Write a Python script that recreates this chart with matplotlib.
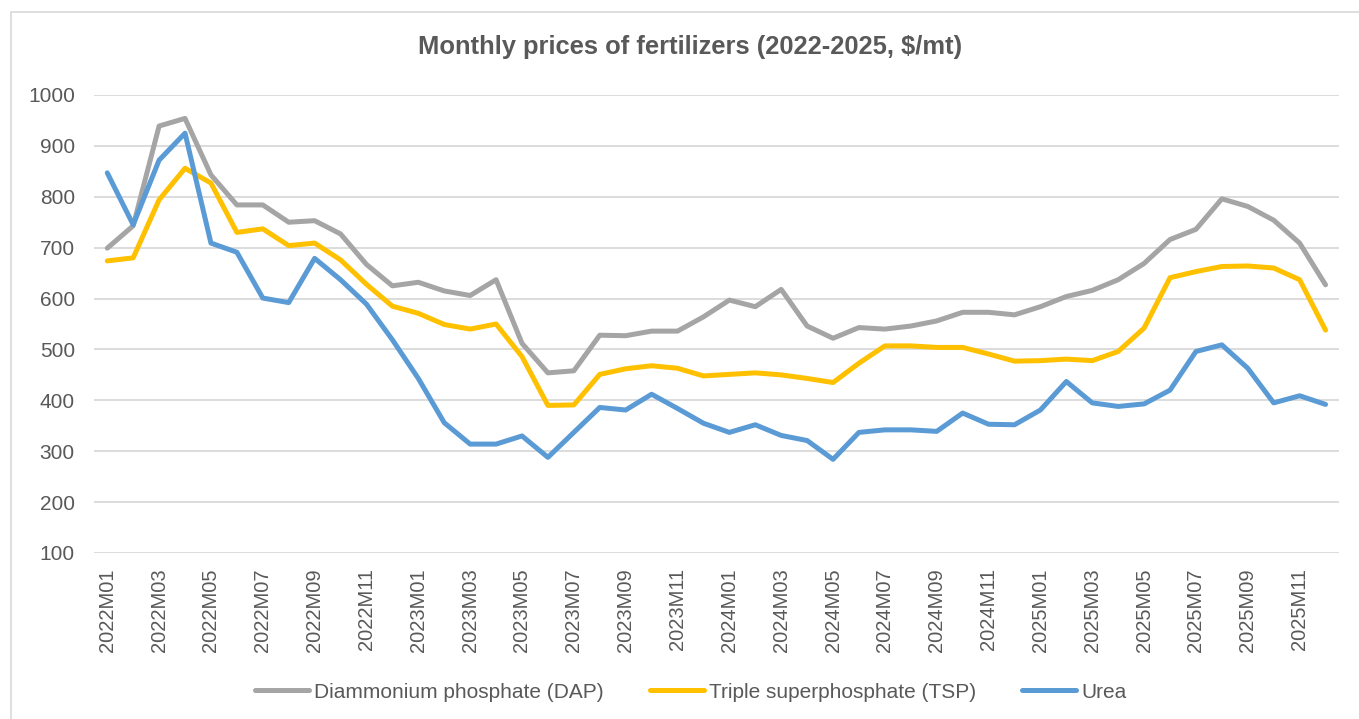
import matplotlib
matplotlib.use("Agg")
import matplotlib.pyplot as plt
from matplotlib.patches import Rectangle

years = [2022, 2023, 2024, 2025]
months = [f"{y}M{m:02d}" for y in years for m in range(1, 13)]

dap = [699, 743, 939, 954, 843, 784, 784, 750, 753, 727, 667, 625,
       632, 615, 606, 637, 512, 454, 458, 528, 527, 536, 536, 564,
       597, 584, 618, 546, 522, 543, 540, 546, 556, 573, 573, 568,
       584, 604, 616, 637, 669, 716, 736, 796, 781, 754, 709, 627]
tsp = [674, 680, 794, 856, 827, 730, 737, 704, 709, 676, 628, 585,
       571, 549, 540, 550, 486, 390, 391, 451, 462, 468, 463, 448,
       451, 454, 450, 443, 435, 473, 507, 507, 504, 504, 491, 477,
       478, 481, 478, 496, 542, 641, 653, 663, 664, 660, 637, 538]
urea = [847, 745, 872, 925, 709, 691, 601, 592, 679, 637, 589, 519,
        443, 356, 314, 314, 330, 288, 337, 386, 381, 412, 384, 355,
        337, 352, 331, 321, 284, 337, 342, 342, 339, 375, 353, 352,
        381, 437, 395, 388, 393, 420, 496, 509, 463, 395, 409, 392]

series_names = ["Diammonium phosphate (DAP)", "Triple superphosphate (TSP)", "Urea"]
series_colors = ["#A5A5A5", "#FFC000", "#5B9BD5"]
yticks = [100, 200, 300, 400, 500, 600, 700, 800, 900, 1000]

plt.rcParams['font.family'] = ['Liberation Sans', 'DejaVu Sans']
txt = "#595959"

W, H = 1359, 719
fig = plt.figure(figsize=(W / 100, H / 100), dpi=100)
ax = fig.add_axes([94.3 / W, 1 - 553 / H, (1338.5 - 94.3) / W, (553 - 95) / H])

x = list(range(len(months)))
for vals, name, col in zip([dap, tsp, urea], series_names, series_colors):
    ax.plot(x, vals, color=col, lw=3.6, label=name,
            solid_capstyle='round', solid_joinstyle='round')

ax.set_xlim(-0.5, len(months) - 0.5)
ax.set_ylim(100, 1000)
ax.set_yticks(yticks)
ax.set_yticklabels([str(v) for v in yticks])
ax.set_xticks(x[::2])
ax.set_xticklabels(months[::2], rotation=90)
ax.grid(axis='y', color='#D9D9D9', lw=1.3)
ax.set_axisbelow(True)
for s in ax.spines.values():
    s.set_visible(False)
ax.tick_params(axis='y', length=0, pad=14, labelsize=15, labelcolor=txt)
ax.tick_params(axis='x', length=0, pad=11, labelsize=14.5, labelcolor=txt)

fig.text(690 / W, 1 - 47 / H,
         "Monthly prices of fertilizers (2022-2025, $/mt)",
         ha='center', va='center', fontsize=18.4, fontweight='bold', color=txt)

leg = fig.legend(loc='center', bbox_to_anchor=(691 / W, 1 - 692 / H), ncol=3,
                 frameon=False, fontsize=15, handlelength=2.6, handletextpad=0.25,
                 columnspacing=2.2, labelcolor=txt)
for h in leg.get_lines():
    h.set_linewidth(3.6)
    h.set_solid_capstyle('round')

fig.add_artist(Rectangle((11 / W, -0.1), 1.2, 1.1 - 12 / H, transform=fig.transFigure,
                         fill=False, edgecolor='#D9D9D9', lw=1.2))

fig.savefig("out.png", dpi=100)
